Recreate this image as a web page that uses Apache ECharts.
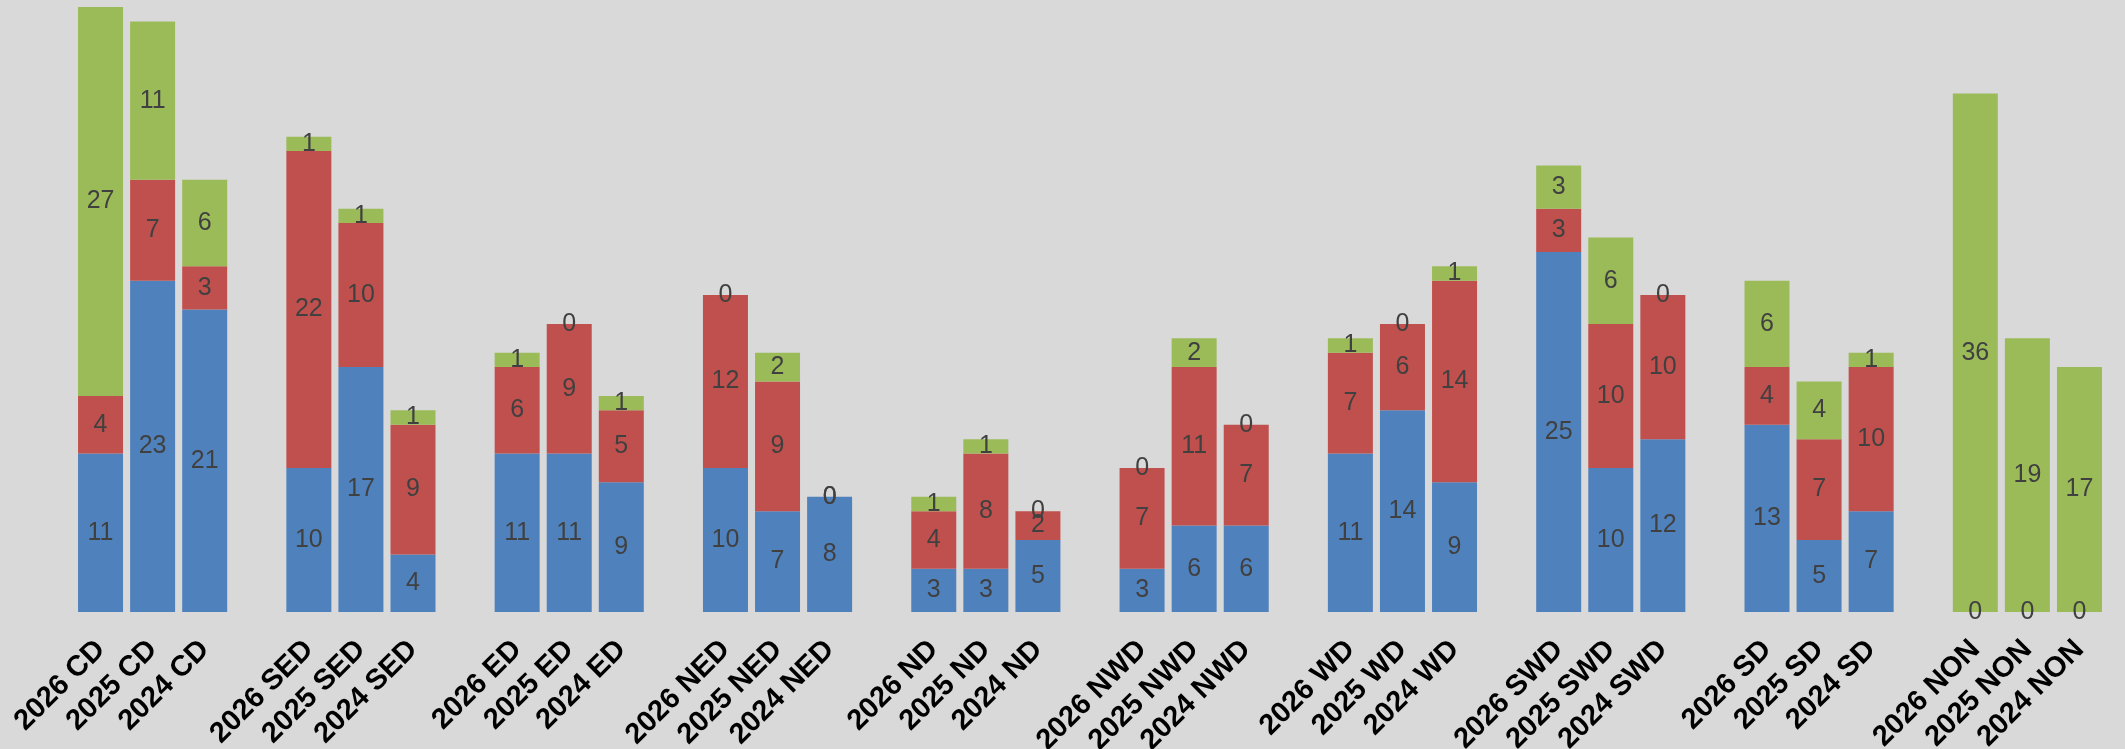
<!DOCTYPE html>
<html>
<head>
<meta charset="utf-8">
<script src="https://cdn.jsdelivr.net/npm/echarts@6/dist/echarts.min.js"></script>
<style>
  html, body { margin: 0; padding: 0; background: #d9d9d9; }
  #chart { width: 2125px; height: 749px; }
</style>
</head>
<body>
<div id="chart"></div>
<script>
// categories, '' = spacer between regions
var categories = [
  '2026 CD', '2025 CD', '2024 CD', '',
  '2026 SED', '2025 SED', '2024 SED', '',
  '2026 ED', '2025 ED', '2024 ED', '',
  '2026 NED', '2025 NED', '2024 NED', '',
  '2026 ND', '2025 ND', '2024 ND', '',
  '2026 NWD', '2025 NWD', '2024 NWD', '',
  '2026 WD', '2025 WD', '2024 WD', '',
  '2026 SWD', '2025 SWD', '2024 SWD', '',
  '2026 SD', '2025 SD', '2024 SD', '',
  '2026 NON', '2025 NON', '2024 NON'
];

var blueData = [
  11, 23, 21, '-',
  10, 17, 4, '-',
  11, 11, 9, '-',
  10, 7, 8, '-',
  3, 3, 5, '-',
  3, 6, 6, '-',
  11, 14, 9, '-',
  25, 10, 12, '-',
  13, 5, 7, '-',
  0, 0, 0
];

var redData = [
  4, 7, 3, '-',
  22, 10, 9, '-',
  6, 9, 5, '-',
  12, 9, 0, '-',
  4, 8, 2, '-',
  7, 11, 7, '-',
  7, 6, 14, '-',
  3, 10, 10, '-',
  4, 7, 10, '-',
  '-', '-', '-'
];

var greenData = [
  27, 11, 6, '-',
  1, 1, 1, '-',
  1, 0, 1, '-',
  0, 2, 0, '-',
  1, 1, 0, '-',
  0, 2, 0, '-',
  1, 0, 1, '-',
  3, 6, 0, '-',
  6, 4, 1, '-',
  36, 19, 17
];

var font = "'Liberation Sans', Arial, sans-serif";

function makeSeries(name, data, color) {
  return {
    name: name,
    type: 'bar',
    stack: 'total',
    data: data,
    barWidth: 45,
    itemStyle: { color: color },
    label: {
      show: true,
      position: 'inside',
      color: '#404040',
      fontSize: 25,
      fontFamily: font
    },
    emphasis: { disabled: true }
  };
}

var chart = echarts.init(document.getElementById('chart'));

chart.setOption({
  backgroundColor: '#d9d9d9',
  animation: false,
  grid: { left: 74.5, right: 19.5, top: 7, bottom: 137, outerBoundsMode: 'none', containLabel: false },
  xAxis: {
    type: 'category',
    data: categories,
    axisLine: { show: false },
    axisTick: { show: false },
    axisLabel: {
      interval: 0,
      rotate: 45,
      margin: 33,
      color: '#000',
      fontWeight: 'bold',
      fontSize: 29,
      fontFamily: font
    }
  },
  yAxis: {
    type: 'value',
    min: 0,
    max: 42,
    show: false,
    splitLine: { show: false }
  },
  series: [
    makeSeries('blue', blueData, '#4f81bd'),
    makeSeries('red', redData, '#c0504d'),
    makeSeries('green', greenData, '#9bbb59')
  ]
});
</script>
</body>
</html>
